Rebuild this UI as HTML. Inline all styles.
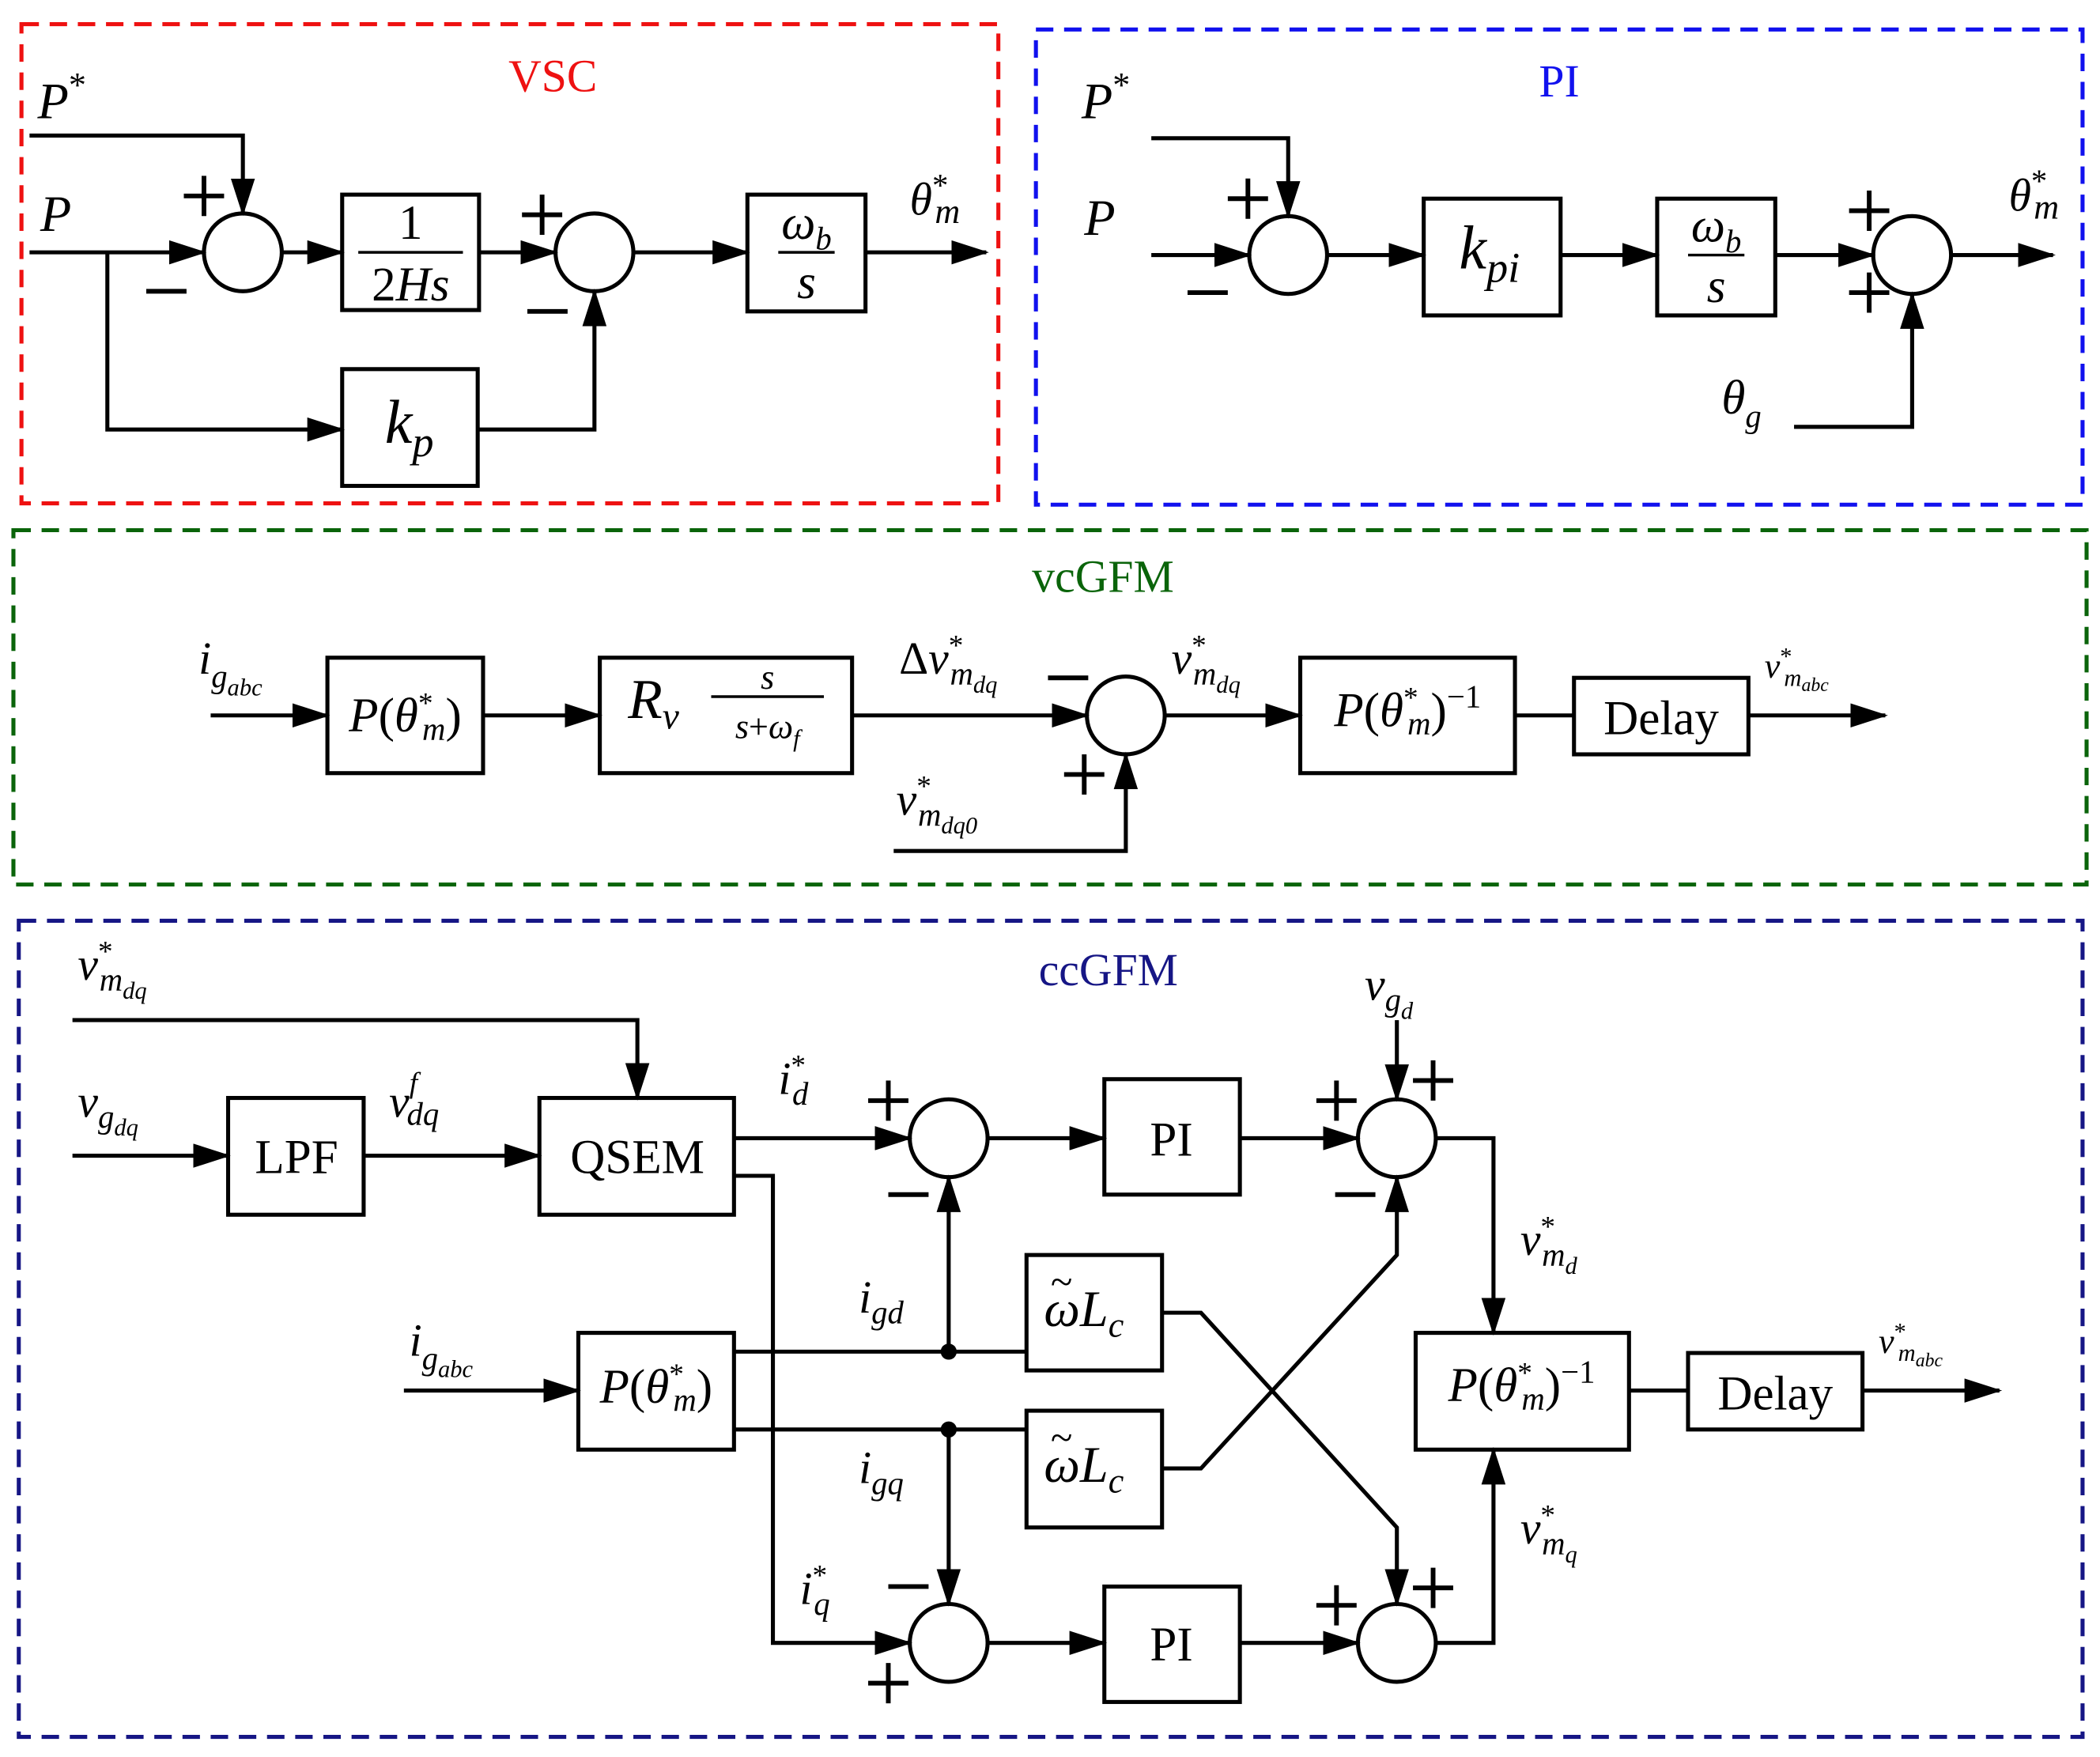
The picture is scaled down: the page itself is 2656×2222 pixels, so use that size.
<!DOCTYPE html>
<html><head><meta charset="utf-8"><style>
html,body{margin:0;padding:0;background:#fff;}
svg{display:block;}
text{font-family:"Liberation Serif",serif;}
.m{font-style:italic;}
</style></head><body>
<svg width="2656" height="2222" viewBox="0 0 1565 1309" preserveAspectRatio="none" xmlns="http://www.w3.org/2000/svg">
<defs>
<marker id="a" markerUnits="userSpaceOnUse" markerWidth="28" markerHeight="18" refX="26" refY="9" orient="auto">
<path d="M0,0 L28,9 L0,18 z" fill="#000"/></marker>
<path id="pl" d="M-15,0 H15 M0,-15 V15" stroke="#000" stroke-width="3.5" fill="none"/>
<path id="mi" d="M-15,0 H15" stroke="#000" stroke-width="3.5" fill="none"/>
</defs>
<rect width="1565" height="1309" fill="#fff"/>
<g fill="none" stroke-width="3" stroke-dasharray="13,8">
<rect x="16" y="18" width="728" height="357" stroke="#ee1111"/>
<rect x="772" y="22" width="780" height="354" stroke="#1111ee"/>
<rect x="10" y="395" width="1545" height="264" stroke="#0a640a"/>
<rect x="14" y="686" width="1538" height="608" stroke="#161685"/>
</g>
<g font-size="34" text-anchor="middle">
<text x="412" y="68" fill="#ee1111">VSC</text>
<text x="1162" y="72" fill="#1111ee">PI</text>
<text x="822" y="441" fill="#0a640a">vcGFM</text>
<text x="826" y="734" fill="#161685">ccGFM</text>
</g>
<g stroke="#000" stroke-width="3" fill="none">
<polyline points="22,101 181,101 181,159" marker-end="url(#a)"/>
<line x1="22" y1="188" x2="152" y2="188" marker-end="url(#a)"/>
<circle cx="181" cy="188" r="29"/>
<line x1="210" y1="188" x2="255" y2="188" marker-end="url(#a)"/>
<rect x="255" y="145" width="102" height="86"/>
<line x1="357" y1="188" x2="414" y2="188" marker-end="url(#a)"/>
<circle cx="443" cy="188" r="29"/>
<line x1="472" y1="188" x2="557" y2="188" marker-end="url(#a)"/>
<rect x="557" y="145" width="88" height="87"/>
<line x1="645" y1="188" x2="735" y2="188" marker-end="url(#a)"/>
<polyline points="80,188 80,320 255,320" marker-end="url(#a)"/>
<rect x="255" y="275" width="101" height="87"/>
<polyline points="356,320 443,320 443,217" marker-end="url(#a)"/>
<line x1="267" y1="188" x2="345" y2="188" stroke-width="2"/>
<line x1="580" y1="188" x2="622" y2="188" stroke-width="2"/>
<polyline points="858,103 960,103 960,161" marker-end="url(#a)"/>
<line x1="858" y1="190" x2="931" y2="190" marker-end="url(#a)"/>
<circle cx="960" cy="190" r="29"/>
<line x1="989" y1="190" x2="1061" y2="190" marker-end="url(#a)"/>
<rect x="1061" y="148" width="102" height="87"/>
<line x1="1163" y1="190" x2="1235" y2="190" marker-end="url(#a)"/>
<rect x="1235" y="148" width="88" height="87"/>
<line x1="1258" y1="190" x2="1300" y2="190" stroke-width="2"/>
<line x1="1323" y1="190" x2="1396" y2="190" marker-end="url(#a)"/>
<circle cx="1425" cy="190" r="29"/>
<line x1="1454" y1="190" x2="1530" y2="190" marker-end="url(#a)"/>
<polyline points="1337,318 1425,318 1425,219" marker-end="url(#a)"/>
<line x1="157" y1="533" x2="244" y2="533" marker-end="url(#a)"/>
<rect x="244" y="490" width="116" height="86"/>
<line x1="360" y1="533" x2="447" y2="533" marker-end="url(#a)"/>
<rect x="447" y="490" width="188" height="86"/>
<line x1="530" y1="519" x2="614" y2="519" stroke-width="2"/>
<line x1="635" y1="533" x2="810" y2="533" marker-end="url(#a)"/>
<circle cx="839" cy="533" r="29"/>
<polyline points="666,634 839,634 839,562" marker-end="url(#a)"/>
<line x1="868" y1="533" x2="969" y2="533" marker-end="url(#a)"/>
<rect x="969" y="490" width="160" height="86"/>
<line x1="1129" y1="533" x2="1173" y2="533"/>
<rect x="1173" y="505" width="130" height="57"/>
<line x1="1303" y1="533" x2="1405" y2="533" marker-end="url(#a)"/>
<polyline points="54,760 475,760 475,818" marker-end="url(#a)"/>
<line x1="54" y1="861" x2="170" y2="861" marker-end="url(#a)"/>
<rect x="170" y="818" width="101" height="87"/>
<line x1="271" y1="861" x2="402" y2="861" marker-end="url(#a)"/>
<rect x="402" y="818" width="145" height="87"/>
<line x1="547" y1="848" x2="678" y2="848" marker-end="url(#a)"/>
<circle cx="707" cy="848" r="29"/>
<line x1="736" y1="848" x2="823" y2="848" marker-end="url(#a)"/>
<rect x="823" y="804" width="101" height="86"/>
<line x1="924" y1="848" x2="1012" y2="848" marker-end="url(#a)"/>
<circle cx="1041" cy="848" r="29"/>
<line x1="1041" y1="760" x2="1041" y2="819" marker-end="url(#a)"/>
<polyline points="1070,848 1113,848 1113,993" marker-end="url(#a)"/>
<polyline points="547,876 576,876 576,1224 678,1224" marker-end="url(#a)"/>
<circle cx="707" cy="1224" r="29"/>
<line x1="736" y1="1224" x2="823" y2="1224" marker-end="url(#a)"/>
<rect x="823" y="1182" width="101" height="86"/>
<line x1="924" y1="1224" x2="1012" y2="1224" marker-end="url(#a)"/>
<circle cx="1041" cy="1224" r="29"/>
<polyline points="1070,1224 1113,1224 1113,1080" marker-end="url(#a)"/>
<line x1="301" y1="1036" x2="431" y2="1036" marker-end="url(#a)"/>
<rect x="431" y="993" width="116" height="87"/>
<line x1="547" y1="1007" x2="765" y2="1007"/>
<rect x="765" y="935" width="101" height="86"/>
<line x1="707" y1="1007" x2="707" y2="877" marker-end="url(#a)"/>
<line x1="547" y1="1065" x2="765" y2="1065"/>
<rect x="765" y="1051" width="101" height="87"/>
<line x1="707" y1="1065" x2="707" y2="1195" marker-end="url(#a)"/>
<polyline points="866,978 895,978 1041,1138 1041,1195" marker-end="url(#a)"/>
<polyline points="866,1094 895,1094 1041,935 1041,877" marker-end="url(#a)"/>
<rect x="1055" y="993" width="159" height="87"/>
<line x1="1214" y1="1036" x2="1258" y2="1036"/>
<rect x="1258" y="1008" width="130" height="57"/>
<line x1="1388" y1="1036" x2="1490" y2="1036" marker-end="url(#a)"/>
</g>
<circle cx="707" cy="1007" r="6" fill="#000"/>
<circle cx="707" cy="1065" r="6" fill="#000"/>
<!-- signs -->
<use href="#pl" x="152" y="146"/><use href="#mi" x="124" y="217"/>
<use href="#pl" x="404" y="160"/><use href="#mi" x="408" y="232"/>
<use href="#pl" x="930" y="148"/><use href="#mi" x="900" y="218"/>
<use href="#pl" x="1393" y="157"/><use href="#pl" x="1393" y="218"/>
<use href="#mi" x="796" y="505"/><use href="#pl" x="808" y="577"/>
<use href="#pl" x="662" y="820"/><use href="#mi" x="677" y="890"/>
<use href="#pl" x="996" y="820"/><use href="#pl" x="1068" y="805"/><use href="#mi" x="1010" y="890"/>
<use href="#mi" x="677" y="1182"/><use href="#pl" x="662" y="1254"/>
<use href="#pl" x="996" y="1196"/><use href="#pl" x="1068" y="1183"/>
<g fill="#000" font-size="38">
<text x="28" y="88" class="m">P<tspan font-size="26" dy="-16" font-style="normal">*</tspan></text>
<text x="30" y="172" class="m">P</text>
<text x="306" y="178" text-anchor="middle" font-size="36">1</text>
<text x="306" y="224" text-anchor="middle" font-size="36">2<tspan class="m">Hs</tspan></text>
<text x="601" y="178" text-anchor="middle" class="m" font-size="36">ω<tspan font-size="24" dy="8">b</tspan></text>
<text x="601" y="222" text-anchor="middle" class="m" font-size="36">s</text>
<text x="678" y="160" class="m" font-size="34">θ<tspan font-size="24" dy="-14" font-style="normal">*</tspan><tspan font-size="26" dy="20" dx="-10">m</tspan></text>
<text x="305" y="330" text-anchor="middle" class="m" font-size="46">k<tspan font-size="32" dy="10">p</tspan></text>
<text x="806" y="88" class="m">P<tspan font-size="26" dy="-16" font-style="normal">*</tspan></text>
<text x="808" y="175" class="m">P</text>
<text x="1110" y="200" text-anchor="middle" class="m" font-size="46">k<tspan font-size="32" dy="10">pi</tspan></text>
<text x="1279" y="180" text-anchor="middle" class="m" font-size="36">ω<tspan font-size="24" dy="8">b</tspan></text>
<text x="1279" y="225" text-anchor="middle" class="m" font-size="36">s</text>
<text x="1497" y="157" class="m" font-size="34">θ<tspan font-size="24" dy="-14" font-style="normal">*</tspan><tspan font-size="26" dy="20" dx="-10">m</tspan></text>
<text x="1283" y="308" class="m" font-size="36">θ<tspan font-size="24" dy="10">g</tspan></text>
<text x="148" y="502" class="m" font-size="34">i<tspan font-size="24" dy="10">g</tspan><tspan font-size="18" dy="6">abc</tspan></text>
<text x="302" y="545" text-anchor="middle" class="m" font-size="36">P<tspan font-style="normal">(</tspan>θ<tspan font-size="22" dy="-14" font-style="normal">*</tspan><tspan font-size="24" dy="20" dx="-8">m</tspan><tspan font-style="normal" dy="-6">)</tspan></text>
<text x="468" y="535" class="m" font-size="42">R<tspan font-size="28" dy="8">v</tspan></text>
<text x="572" y="513" text-anchor="middle" class="m" font-size="26">s</text>
<text x="572" y="550" text-anchor="middle" class="m" font-size="26">s<tspan font-style="normal">+</tspan>ω<tspan font-size="18" dy="6">f</tspan></text>
<text x="670" y="502" font-size="34">Δ<tspan class="m">v</tspan><tspan font-size="22" dy="-14">*</tspan><tspan class="m" font-size="24" dy="22" dx="-10">m</tspan><tspan class="m" font-size="18" dy="6">dq</tspan></text>
<text x="668" y="607" class="m" font-size="34">v<tspan font-size="22" dy="-14" font-style="normal">*</tspan><tspan font-size="24" dy="22" dx="-10">m</tspan><tspan font-size="18" dy="6">dq0</tspan></text>
<text x="873" y="502" class="m" font-size="34">v<tspan font-size="22" dy="-14" font-style="normal">*</tspan><tspan font-size="24" dy="22" dx="-10">m</tspan><tspan font-size="18" dy="6">dq</tspan></text>
<text x="1049" y="541" text-anchor="middle" class="m" font-size="36">P<tspan font-style="normal">(</tspan>θ<tspan font-size="22" dy="-14" font-style="normal">*</tspan><tspan font-size="24" dy="20" dx="-8">m</tspan><tspan font-style="normal" dy="-6">)</tspan><tspan font-style="normal" font-size="24" dy="-14">−1</tspan></text>
<text x="1238" y="547" text-anchor="middle" font-size="36">Delay</text>
<text x="1315" y="505" class="m" font-size="26">v<tspan font-size="18" dy="-10" font-style="normal">*</tspan><tspan font-size="18" dy="16" dx="-6">m</tspan><tspan font-size="14" dy="4">abc</tspan></text>
<text x="58" y="730" class="m" font-size="34">v<tspan font-size="22" dy="-14" font-style="normal">*</tspan><tspan font-size="24" dy="22" dx="-10">m</tspan><tspan font-size="18" dy="6">dq</tspan></text>
<text x="58" y="832" class="m" font-size="34">v<tspan font-size="24" dy="8">g</tspan><tspan font-size="18" dy="6">dq</tspan></text>
<text x="221" y="874" text-anchor="middle" font-size="36">LPF</text>
<text x="290" y="832" class="m" font-size="34">v<tspan font-size="22" dy="-18">f</tspan><tspan font-size="24" dy="24" dx="-8">dq</tspan></text>
<text x="475" y="874" text-anchor="middle" font-size="36">QSEM</text>
<text x="580" y="815" class="m" font-size="34">i<tspan font-size="22" dy="-14" font-style="normal">*</tspan><tspan font-size="24" dy="22" dx="-10">d</tspan></text>
<text x="873" y="861" text-anchor="middle" font-size="36">PI</text>
<text x="1017" y="745" class="m" font-size="34">v<tspan font-size="24" dy="8">g</tspan><tspan font-size="18" dy="6">d</tspan></text>
<text x="1133" y="935" class="m" font-size="34">v<tspan font-size="22" dy="-14" font-style="normal">*</tspan><tspan font-size="24" dy="22" dx="-10">m</tspan><tspan font-size="18" dy="6">d</tspan></text>
<text x="596" y="1195" class="m" font-size="34">i<tspan font-size="22" dy="-14" font-style="normal">*</tspan><tspan font-size="24" dy="22" dx="-10">q</tspan></text>
<text x="873" y="1237" text-anchor="middle" font-size="36">PI</text>
<text x="1133" y="1150" class="m" font-size="34">v<tspan font-size="22" dy="-14" font-style="normal">*</tspan><tspan font-size="24" dy="22" dx="-10">m</tspan><tspan font-size="18" dy="6">q</tspan></text>
<text x="305" y="1010" class="m" font-size="34">i<tspan font-size="24" dy="10">g</tspan><tspan font-size="18" dy="6">abc</tspan></text>
<text x="489" y="1045" text-anchor="middle" class="m" font-size="36">P<tspan font-style="normal">(</tspan>θ<tspan font-size="22" dy="-14" font-style="normal">*</tspan><tspan font-size="24" dy="20" dx="-8">m</tspan><tspan font-style="normal" dy="-6">)</tspan></text>
<text x="640" y="978" class="m" font-size="34">i<tspan font-size="24" dy="8">gd</tspan></text>
<text x="640" y="1105" class="m" font-size="34">i<tspan font-size="24" dy="8">gq</tspan></text>
<text x="778" y="988" class="m" font-size="38">ωL<tspan font-size="26" dy="8">c</tspan></text>
<text x="783" y="965" font-size="30">~</text>
<text x="778" y="1104" class="m" font-size="38">ωL<tspan font-size="26" dy="8">c</tspan></text>
<text x="783" y="1081" font-size="30">~</text>
<text x="1134" y="1044" text-anchor="middle" class="m" font-size="36">P<tspan font-style="normal">(</tspan>θ<tspan font-size="22" dy="-14" font-style="normal">*</tspan><tspan font-size="24" dy="20" dx="-8">m</tspan><tspan font-style="normal" dy="-6">)</tspan><tspan font-style="normal" font-size="24" dy="-14">−1</tspan></text>
<text x="1323" y="1050" text-anchor="middle" font-size="36">Delay</text>
<text x="1400" y="1008" class="m" font-size="26">v<tspan font-size="18" dy="-10" font-style="normal">*</tspan><tspan font-size="18" dy="16" dx="-6">m</tspan><tspan font-size="14" dy="4">abc</tspan></text>
</g>
</svg>
</body></html>
